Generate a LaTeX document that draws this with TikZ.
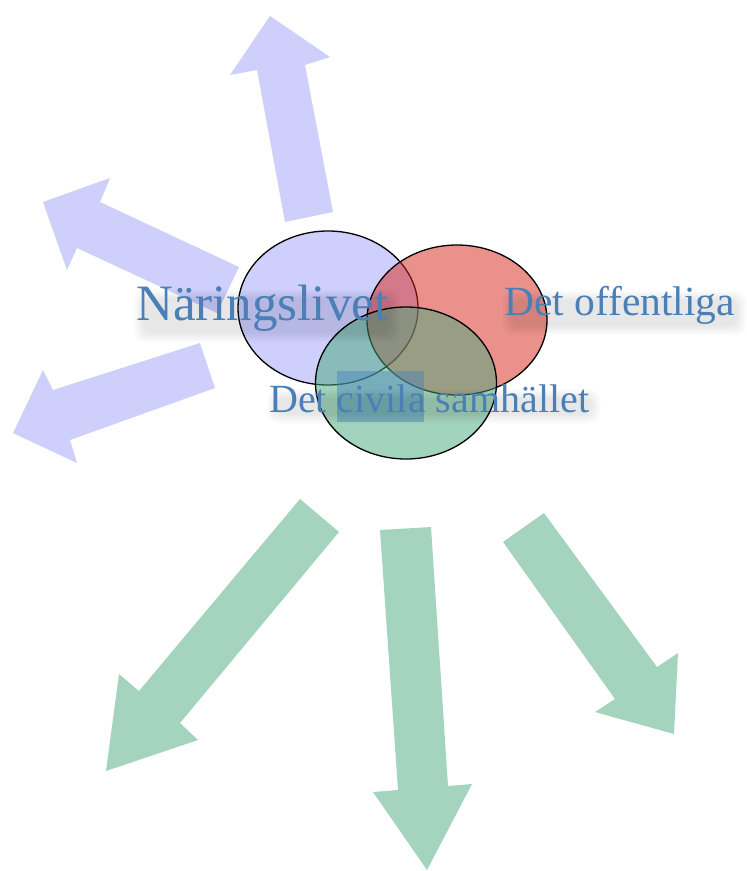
\documentclass[tikz,border=0pt]{standalone}
\usepackage{fontspec}
\setmainfont{Liberation Serif}
\usetikzlibrary{calc}
\definecolor{arrblue}{RGB}{207,207,251}
\definecolor{arrgreen}{RGB}{164,212,190}
\definecolor{ellred}{RGB}{217,37,25}
\definecolor{ellgreen}{RGB}{71,169,125}
\definecolor{txtblue}{RGB}{74,128,182}
\definecolor{hlblue}{RGB}{70,130,185}
\pgfdeclarelayer{shdlayer}
\pgfdeclarelayer{txtlayer}
\pgfsetlayers{main,shdlayer,txtlayer}
\tikzset{
  bluearrow/.style={fill=arrblue, draw=none},
  greenarrow/.style={fill=arrgreen, draw=none},
  ell/.style={draw=black, line width=1.3pt},
  lbl/.style={anchor=base west, inner sep=0pt, text=txtblue},
  softshadow/.style={fill=black, opacity=0.011, rounded corners=10pt}
}
\newcommand{\mysoftshadow}[1]{%
  \foreach \i in {0,1,2,3,4,5,6,7}{
    \fill[softshadow] ($(#1.north west)+(7-\i*1.3,14-\i*1.3)$) rectangle ($(#1.south east)+(2+\i*1.3,2+\i*1.3)$);
  }
}
\begin{document}
\begin{tikzpicture}[x=1pt,y=-1pt]
\useasboundingbox[fill=white] (0,0) rectangle (747,871);
% blue arrows
\fill[bluearrow] (270,16) -- (330,57) -- (305,65) -- (333,212) -- (285,222) -- (257,70) -- (230,75) -- cycle;
\fill[bluearrow] (43,202) -- (110,178) -- (100,202) -- (239,267) -- (217,313) -- (77,248) -- (67,270) -- cycle;
\fill[bluearrow] (13,433) -- (43,370) -- (53,390) -- (200,343) -- (215,388) -- (70,440) -- (77,463) -- cycle;
% green arrows
\fill[greenarrow] (300,499) -- (339,532) -- (180,723) -- (198,740) -- (106,771) -- (119,674) -- (139,691) -- cycle;
\fill[greenarrow] (380,530) -- (431,527) -- (448,786) -- (472,784) -- (427,870) -- (373,792) -- (398,790) -- cycle;
\fill[greenarrow] (503,542) -- (544,513) -- (657,667) -- (678,653) -- (674,734) -- (595,712) -- (615,699) -- cycle;
% ellipses
\filldraw[ell, fill=arrblue] (328,308) ellipse [x radius=90, y radius=77];
\fill[ellred, fill opacity=0.5] (457,320) ellipse [x radius=90, y radius=75];
\draw[ell] (457,320) ellipse [x radius=90, y radius=75];
\fill[ellgreen, fill opacity=0.5] (406,383) ellipse [x radius=90.5, y radius=76];
\draw[ell] (406,383) ellipse [x radius=90.5, y radius=76];
% highlight box
\fill[hlblue, opacity=0.45] (337,371) rectangle (424,422);
% labels
\begin{pgfonlayer}{txtlayer}
\node[lbl, font=\fontsize{51}{51}\selectfont] (naring) at (136,320) {Näringslivet};
\node[lbl, font=\fontsize{41.5}{41.5}\selectfont] (offentliga) at (504,315) {Det offentliga};
\node[lbl, font=\fontsize{40}{40}\selectfont] (civila) at (269,412) {Det civila samhället};
\end{pgfonlayer}
\begin{pgfonlayer}{shdlayer}
\mysoftshadow{naring}
\mysoftshadow{offentliga}
\mysoftshadow{civila}
\end{pgfonlayer}
\end{tikzpicture}
\end{document}
